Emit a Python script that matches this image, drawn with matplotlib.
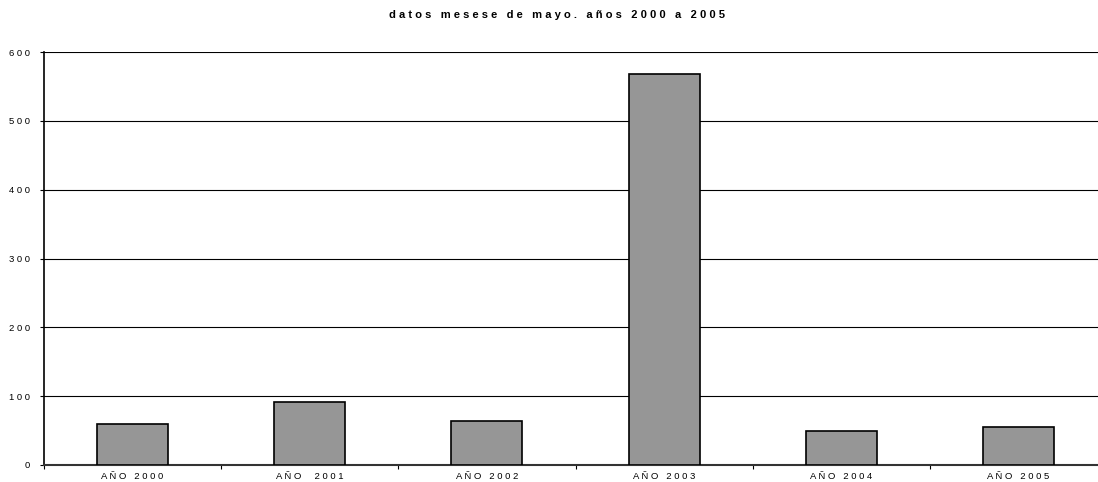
import numpy as np
import matplotlib.pyplot as plt

plt.rcParams["font.family"] = ["Liberation Sans", "DejaVu Sans"]

# datos
etiquetas = ["AÑO 2000", "AÑO  2001", "AÑO 2002", "AÑO 2003", "AÑO 2004", "AÑO 2005"]
valores = [59, 92, 64, 568, 49, 55]
y_ticks = [0, 100, 200, 300, 400, 500, 600]
titulo = "datos mesese de mayo. años 2000 a 2005"


def espaciar(s):
    # el original usa texto con letras muy separadas
    return " ".join(s)


fig = plt.figure(figsize=(10.98, 4.82), dpi=100)
ax = fig.add_axes([44 / 1098, 17 / 482, 1063 / 1098, 413 / 482])

x = np.arange(len(valores))
ax.bar(x, valores, width=0.4, color="#969696", edgecolor="black", linewidth=1.2, zorder=3)

ax.set_xlim(-0.5, len(valores) - 0.5)
ax.set_ylim(0, 600)
ax.set_yticks(y_ticks)
ax.set_yticklabels([espaciar(str(v)) for v in y_ticks], fontsize=6.8)
ax.yaxis.grid(True, color="black", linewidth=0.8, zorder=1)

# marcas en los limites de categoria, etiquetas en el centro
ax.set_xticks(np.arange(-0.5, len(valores), 1.0))
ax.set_xticklabels([])
ax.set_xticks(x, minor=True)
ax.set_xticklabels([espaciar(e) for e in etiquetas], minor=True, fontsize=6.8)
ax.tick_params(axis="x", which="minor", length=0, pad=5)
ax.tick_params(axis="x", which="major", length=3, width=0.8)
ax.tick_params(axis="y", length=3, width=0.8, pad=7)

for s in ["top", "right"]:
    ax.spines[s].set_visible(False)
ax.spines["left"].set_linewidth(1.2)
ax.spines["bottom"].set_linewidth(1.5)
ax.spines["bottom"].set_color("#333333")

fig.text(557 / 1098, 1 - 15 / 482, espaciar(titulo), ha="center", va="center",
         fontsize=8, fontweight="bold")

fig.savefig("out.png", dpi=100)
